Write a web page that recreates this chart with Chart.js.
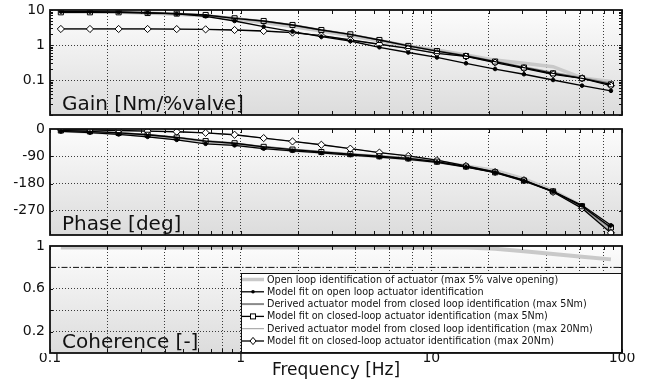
<!DOCTYPE html>
<html><head><meta charset="utf-8">
<script src="https://cdn.jsdelivr.net/npm/chart.js@4/dist/chart.umd.min.js"></script>
<style>
html,body{margin:0;padding:0;background:#fff;}
#wrap{position:relative;width:651px;height:388px;overflow:hidden;}
.c{position:absolute;left:0;width:651px;}
canvas{display:block;}
</style></head><body>
<div id="wrap">
<div class="c" style="top:0;height:120px"><canvas id="gain" width="651" height="120"></canvas></div>
<div class="c" style="top:120px;height:120px"><canvas id="phase" width="651" height="120"></canvas></div>
<div class="c" style="top:236px;height:152px"><canvas id="coh" width="651" height="152"></canvas></div>
</div>
<script>
// ---------------- DATA ----------------
const frequencies = [0.114, 0.162, 0.229, 0.325, 0.462, 0.655, 0.929, 1.32, 1.87, 2.65, 3.76, 5.34, 7.57, 10.7, 15.2, 21.6, 30.6, 43.5, 61.7, 87.5];

const seriesLabels = [
  'Open loop identification of actuator (max 5% valve opening)',
  'Model fit on open loop actuator identification',
  'Derived actuator model from closed loop identification (max 5Nm)',
  'Model fit on closed-loop actuator identification (max 5Nm)',
  'Derived actuator model from closed loop identification (max 20Nm)',
  'Model fit on closed-loop actuator identification (max 20Nm)'
];

const gainOpenLoopId   = [8.8, 8.8, 8.6, 8.2, 7.6, 6.8, 5.5, 4.4, 3.4, 2.5, 1.85, 1.32, 0.93, 0.72, 0.52, 0.37, 0.30, 0.24, 0.115, 0.09];
const gainOpenLoopFit  = [9.0, 9.0, 8.8, 8.4, 7.8, 6.6, 4.85, 3.36, 2.41, 1.74, 1.3, 0.86, 0.61, 0.44, 0.30, 0.206, 0.146, 0.10, 0.069, 0.049];
const gainCL5Derived   = [8.7, 8.7, 8.6, 8.2, 7.8, 7.1, 5.9, 4.8, 3.7, 2.7, 2.0, 1.4, 0.95, 0.68, 0.49, 0.34, 0.23, 0.16, 0.115, 0.08];
const gainCL5Fit       = [8.6, 8.6, 8.6, 8.2, 7.9, 7.2, 5.8, 4.85, 3.73, 2.68, 2.02, 1.39, 0.94, 0.67, 0.485, 0.336, 0.226, 0.155, 0.112, 0.075];
const gainCL20Derived  = [2.85, 2.85, 2.85, 2.85, 2.83, 2.78, 2.66, 2.5, 2.25, 1.86, 1.4, 1.05, 0.8, 0.59, 0.47, 0.315, 0.218, 0.148, 0.113, 0.07];
const gainCL20Fit      = [2.87, 2.87, 2.87, 2.87, 2.85, 2.8, 2.68, 2.51, 2.26, 1.86, 1.39, 1.05, 0.8, 0.58, 0.47, 0.314, 0.216, 0.146, 0.112, 0.069];

const phaseOpenLoopId  = [-6, -10, -15, -22, -32, -44, -51, -62, -70, -77, -84, -91, -98, -108, -122, -137, -165, -203, -255, -322];
const phaseOpenLoopFit = [-8, -12, -18, -26, -36, -49, -54, -65, -72, -79, -86, -93, -100, -110, -126, -144, -172, -206, -252, -318];
const phaseCL5Derived  = [-5, -8, -13, -19, -28, -40, -47, -59, -68, -76, -83, -90, -97, -108, -124, -143, -170, -207, -257, -328];
const phaseCL5Fit      = [-5, -8, -13, -19, -28, -40, -47, -59, -68, -76, -83, -90, -97, -108, -124, -143, -170, -206, -255, -325];
const phaseCL20Derived = [-2, -3, -5, -7, -9, -13, -19, -30, -41, -52, -65, -78, -89, -103, -122, -142, -170, -208, -260, -338];
const phaseCL20Fit     = [-2, -3, -5, -7, -9, -12.6, -19, -30, -41, -52, -65, -78, -89, -103, -122, -142, -169, -208, -262, -343];

const coherenceOpenLoopId = [0.985, 0.985, 0.985, 0.985, 0.985, 0.985, 0.985, 0.985, 0.985, 0.985, 0.985, 0.985, 0.985, 0.985, 0.985, 0.975, 0.95, 0.925, 0.9, 0.875];
const coherenceThreshold = 0.8;

const xRange = [0.1, 100];
const xTickLabels = [0.1, 1, 10, 100];
const xGridValues = [0.2, 0.4, 0.6, 0.8, 1, 2, 4, 6, 8, 10, 20, 40, 60, 80];
const gainRange = [0.01, 10];
const gainTickLabels = [10, 1, 0.1];
const gainGridValues = [1, 0.1];
const phaseRange = [-350, 0];
const phaseTickLabels = [0, -90, -180, -270];
const phaseGridValues = [-90, -180, -270];
const coherenceRange = [0, 1];
const coherenceTickLabels = [1, 0.6, 0.2];
const coherenceGridValues = [0.2, 0.4, 0.6];

// ---------------- STYLES ----------------
const seriesStyles = [
  {color: '#c9c9c9', width: 3.5, point: null, order: 3},
  {color: '#000000', width: 1.3, point: 'circle', radius: 1.8, fill: '#000', order: 0},
  {color: '#8a8a8a', width: 2, point: null, order: 2},
  {color: '#000000', width: 1.3, point: 'rect', radius: 3.6, fill: 'rgba(0,0,0,0)', order: 0},
  {color: '#9a9a9a', width: 1, point: null, order: 1},
  {color: '#000000', width: 1.3, point: 'rectRot', radius: 3.6, fill: '#ffffff', order: 0}
];
const FONT = '"DejaVu Sans", Verdana, sans-serif';
const near = (a, b) => Math.abs(a - b) <= 1e-9 + 1e-6 * Math.abs(b);
const inList = (v, list) => list.some(t => near(v, t));

const pts = arr => arr.map((v, i) => ({x: frequencies[i], y: v}));
function makeDatasets(valueArrays) {
  return valueArrays.map((arr, i) => {
    const s = seriesStyles[i];
    return {
      label: seriesLabels[i], data: pts(arr),
      borderColor: s.color, borderWidth: s.width, order: s.order,
      pointStyle: s.point || false, pointRadius: s.point ? s.radius : 0,
      pointBackgroundColor: s.fill || s.color, pointBorderColor: '#000', pointBorderWidth: 1,
      tension: 0, fill: false
    };
  });
}

// tick mark positions (decoration only)
const xMinorTickValues = [];
for (let e = -1; e <= 1; e++) for (let k = 1; k <= 9; k++) xMinorTickValues.push(k * Math.pow(10, e));
xMinorTickValues.push(100);
const gainMinorTickValues = [];
for (let e = -2; e <= 0; e++) for (let k = 1; k <= 9; k++) gainMinorTickValues.push(k * Math.pow(10, e));
gainMinorTickValues.push(10);

// ---------------- PLUGINS ----------------
const panelPlugin = {
  id: 'panel',
  beforeDraw(chart) {
    const {ctx, chartArea: a} = chart;
    const g = ctx.createLinearGradient(0, a.top, 0, a.bottom);
    g.addColorStop(0, '#fcfcfc');
    g.addColorStop(1, '#dcdcdc');
    ctx.save();
    ctx.fillStyle = g;
    ctx.fillRect(a.left, a.top, a.right - a.left, a.bottom - a.top);
    ctx.restore();
  },
  afterDraw(chart, args, opts) {
    const {ctx, chartArea: a} = chart;
    const xs = chart.scales.x, ys = chart.scales.y;
    ctx.save();
    ctx.strokeStyle = '#111';
    ctx.lineWidth = 1;
    ctx.beginPath();
    xMinorTickValues.forEach(v => {
      const px = Math.round(xs.getPixelForValue(v)) + 0.5;
      ctx.moveTo(px, a.bottom); ctx.lineTo(px, a.bottom - 4);
      ctx.moveTo(px, a.top); ctx.lineTo(px, a.top + 4);
    });
    (opts.yMarks || []).forEach(v => {
      const py = Math.round(ys.getPixelForValue(v)) + 0.5;
      ctx.moveTo(a.left, py); ctx.lineTo(a.left + 3, py);
      ctx.moveTo(a.right, py); ctx.lineTo(a.right - 3, py);
    });
    ctx.stroke();
    ctx.lineWidth = 1.8;
    ctx.strokeRect(a.left, a.top, a.right - a.left, a.bottom - a.top);
    if (opts.label) {
      ctx.fillStyle = '#111';
      ctx.font = '20px ' + FONT;
      ctx.textBaseline = 'alphabetic';
      ctx.textAlign = 'left';
      ctx.fillText(opts.label, a.left + 12, a.bottom - 5.5);
    }
    if (opts.legend) {
      const w = 381, h = 80;
      const lx = a.right - w, ly = a.bottom - h;
      ctx.fillStyle = '#ffffff';
      ctx.fillRect(lx, ly, w, h);
      ctx.strokeStyle = '#111';
      ctx.lineWidth = 1;
      ctx.strokeRect(lx + 0.5, ly + 0.5, w - 1, h - 1);
      ctx.font = '9.6px ' + FONT;
      ctx.textBaseline = 'middle';
      seriesLabels.forEach((lab, i) => {
        const s = seriesStyles[i];
        const cy = ly + 6.5 + i * 12.3;
        ctx.strokeStyle = s.color;
        ctx.lineWidth = s.width;
        ctx.beginPath(); ctx.moveTo(lx + 1, cy); ctx.lineTo(lx + 23, cy); ctx.stroke();
        const mx = lx + 12;
        ctx.lineWidth = 1; ctx.strokeStyle = '#000';
        if (s.point === 'circle') {
          ctx.fillStyle = '#000'; ctx.beginPath(); ctx.arc(mx, cy, 1.8, 0, Math.PI * 2); ctx.fill();
        } else if (s.point === 'rect') {
          ctx.fillStyle = '#fff'; ctx.fillRect(mx - 2.5, cy - 2.5, 5, 5);
          ctx.strokeRect(mx - 2.5, cy - 2.5, 5, 5);
        } else if (s.point === 'rectRot') {
          ctx.fillStyle = '#fff';
          ctx.beginPath(); ctx.moveTo(mx, cy - 3.6); ctx.lineTo(mx + 3, cy); ctx.lineTo(mx, cy + 3.6); ctx.lineTo(mx - 3, cy); ctx.closePath();
          ctx.fill(); ctx.stroke();
        }
        ctx.fillStyle = '#111';
        ctx.fillText(lab, lx + 26, cy + 0.5);
      });
    }
    ctx.restore();
  }
};

// ---------------- SCALES ----------------
function xScale(showLabels) {
  const sc = {
    type: 'logarithmic', min: xRange[0], max: xRange[1],
    afterBuildTicks: s => { s.ticks = [xRange[0], ...xGridValues, xRange[1]].map(v => ({value: v})); },
    grid: {
      color: c => (c.tick && inList(c.tick.value, xGridValues)) ? '#3a3a3a' : 'rgba(0,0,0,0)',
      lineWidth: 1, drawTicks: false
    },
    border: {display: false, dash: [1, 2]},
    ticks: {
      display: showLabels, autoSkip: false, maxRotation: 0, minRotation: 0, padding: -3,
      color: '#111', font: {family: FONT, size: 14},
      callback: v => inList(v, xTickLabels) ? String(xTickLabels.find(t => near(v, t))) : ''
    }
  };
  if (showLabels) {
    sc.title = {display: true, text: 'Frequency [Hz]', color: '#111', font: {family: FONT, size: 17}, padding: {top: 0, bottom: 7}};
    sc.afterFit = s => { s.height = 35; s.paddingLeft = 0; s.paddingRight = 0; };
  } else {
    sc.afterFit = s => { s.height = 0; s.paddingLeft = 0; s.paddingRight = 0; };
  }
  return sc;
}
function yScale(type, range, tickLabels, gridValues, extraTicks) {
  return {
    type, min: range[0], max: range[1],
    afterBuildTicks: s => {
      const vals = [range[0], ...extraTicks, ...tickLabels, ...gridValues, range[1]];
      const uniq = [];
      vals.forEach(v => { if (!inList(v, uniq)) uniq.push(v); });
      uniq.sort((a, b) => a - b);
      s.ticks = uniq.map(v => ({value: v}));
    },
    grid: {
      color: c => (c.tick && inList(c.tick.value, gridValues)) ? '#3a3a3a' : 'rgba(0,0,0,0)',
      lineWidth: 1, drawTicks: false
    },
    border: {display: false, dash: [1, 2]},
    ticks: {
      autoSkip: false, padding: 5, color: '#111', font: {family: FONT, size: 14},
      callback: v => inList(v, tickLabels) ? String(tickLabels.find(t => near(v, t))) : ''
    },
    afterFit: s => { s.width = 50; s.paddingTop = 0; s.paddingBottom = 0; }
  };
}
function baseOptions(padTop, padBottom, xs, ys, panelOpts) {
  return {
    responsive: false, animation: false, events: [],
    layout: {padding: {top: padTop, bottom: padBottom, left: 0, right: 29}},
    scales: {x: xs, y: ys},
    plugins: {legend: {display: false}, tooltip: {enabled: false}, panel: panelOpts}
  };
}

// ---------------- CHARTS ----------------
new Chart(document.getElementById('gain'), {
  type: 'line',
  data: {datasets: makeDatasets([gainOpenLoopId, gainOpenLoopFit, gainCL5Derived, gainCL5Fit, gainCL20Derived, gainCL20Fit])},
  options: baseOptions(10, 3, xScale(false), yScale('logarithmic', gainRange, gainTickLabels, gainGridValues, []),
    {label: 'Gain [Nm/%valve]', yMarks: gainMinorTickValues}),
  plugins: [panelPlugin]
});

new Chart(document.getElementById('phase'), {
  type: 'line',
  data: {datasets: makeDatasets([phaseOpenLoopId, phaseOpenLoopFit, phaseCL5Derived, phaseCL5Fit, phaseCL20Derived, phaseCL20Fit])},
  options: baseOptions(9, 3, xScale(false), yScale('linear', phaseRange, phaseTickLabels, phaseGridValues, []),
    {label: 'Phase [deg]', yMarks: phaseGridValues}),
  plugins: [panelPlugin]
});

const cohDatasets = [
  {
    label: seriesLabels[0], data: pts(coherenceOpenLoopId),
    borderColor: seriesStyles[0].color, borderWidth: 4, pointRadius: 0, order: 2, tension: 0
  },
  {
    label: 'Coherence threshold', data: xRange.map(x => ({x, y: coherenceThreshold})),
    borderColor: '#111', borderWidth: 1, borderDash: [6, 2, 1.5, 2], pointRadius: 0, order: 1
  }
];
new Chart(document.getElementById('coh'), {
  type: 'line',
  data: {datasets: cohDatasets},
  options: baseOptions(10, 0, xScale(true), yScale('linear', coherenceRange, coherenceTickLabels, coherenceGridValues, [coherenceThreshold]),
    {label: 'Coherence [-]', yMarks: [0.2, 0.4, 0.6, 0.8], legend: true}),
  plugins: [panelPlugin]
});
</script>
</body></html>
